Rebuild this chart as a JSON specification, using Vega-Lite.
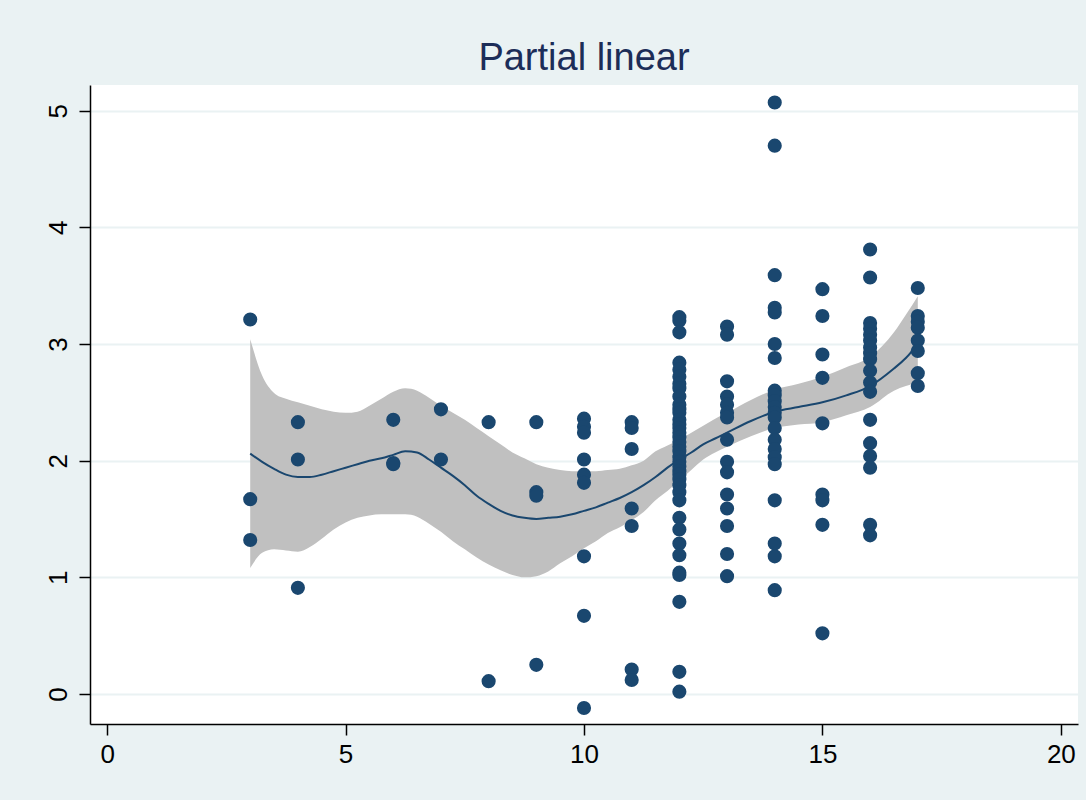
{
  "$schema": "https://vega.github.io/schema/vega-lite/v6.json",
  "width": 988,
  "height": 639,
  "autosize": {"type": "none"},
  "padding": {"left": 90, "top": 85, "right": 8, "bottom": 76},
  "background": "#EAF2F3",
  "title": {
    "text": "Partial linear",
    "font": "Liberation Sans",
    "fontSize": 38,
    "fontWeight": "normal",
    "color": "#1C2D58",
    "anchor": "middle",
    "offset": 7
  },
  "config": {
    "view": {"fill": "white", "stroke": null},
    "axis": {
      "labelFont": "Liberation Sans",
      "labelFontSize": 26,
      "labelColor": "black",
      "domainColor": "black",
      "domainWidth": 1.5,
      "tickColor": "black",
      "tickWidth": 1.5,
      "tickSize": 11,
      "title": null
    }
  },
  "datasets": {
    "pts": [
      {"x": 3, "y": 3.21}, {"x": 3, "y": 1.67}, {"x": 3, "y": 1.32},
      {"x": 4, "y": 2.33}, {"x": 4, "y": 2.01}, {"x": 4, "y": 0.91},
      {"x": 6, "y": 2.35}, {"x": 6, "y": 1.97}, {"x": 6, "y": 1.98},
      {"x": 7, "y": 2.44}, {"x": 7, "y": 2.01},
      {"x": 8, "y": 2.33}, {"x": 8, "y": 0.11},
      {"x": 9, "y": 2.33}, {"x": 9, "y": 1.73}, {"x": 9, "y": 1.70}, {"x": 9, "y": 0.25},
      {"x": 10, "y": 2.36}, {"x": 10, "y": 2.29}, {"x": 10, "y": 2.24}, {"x": 10, "y": 2.01}, {"x": 10, "y": 1.88}, {"x": 10, "y": 1.81}, {"x": 10, "y": 1.18}, {"x": 10, "y": 0.67}, {"x": 10, "y": -0.12},
      {"x": 11, "y": 2.33}, {"x": 11, "y": 2.28}, {"x": 11, "y": 2.10}, {"x": 11, "y": 1.59}, {"x": 11, "y": 1.44}, {"x": 11, "y": 0.21}, {"x": 11, "y": 0.12},
      {"x": 12, "y": 3.23}, {"x": 12, "y": 3.20}, {"x": 12, "y": 3.10}, {"x": 12, "y": 2.84}, {"x": 12, "y": 2.78}, {"x": 12, "y": 2.72}, {"x": 12, "y": 2.66}, {"x": 12, "y": 2.62}, {"x": 12, "y": 2.55}, {"x": 12, "y": 2.48}, {"x": 12, "y": 2.44}, {"x": 12, "y": 2.41}, {"x": 12, "y": 2.35}, {"x": 12, "y": 2.31}, {"x": 12, "y": 2.28}, {"x": 12, "y": 2.24}, {"x": 12, "y": 2.20}, {"x": 12, "y": 2.16}, {"x": 12, "y": 2.12}, {"x": 12, "y": 2.08}, {"x": 12, "y": 2.03}, {"x": 12, "y": 1.99}, {"x": 12, "y": 1.95}, {"x": 12, "y": 1.91}, {"x": 12, "y": 1.88}, {"x": 12, "y": 1.84}, {"x": 12, "y": 1.79}, {"x": 12, "y": 1.73}, {"x": 12, "y": 1.66}, {"x": 12, "y": 1.51}, {"x": 12, "y": 1.41}, {"x": 12, "y": 1.29}, {"x": 12, "y": 1.19}, {"x": 12, "y": 1.04}, {"x": 12, "y": 1.02}, {"x": 12, "y": 0.79}, {"x": 12, "y": 0.19}, {"x": 12, "y": 0.02},
      {"x": 13, "y": 3.15}, {"x": 13, "y": 3.08}, {"x": 13, "y": 2.68}, {"x": 13, "y": 2.55}, {"x": 13, "y": 2.48}, {"x": 13, "y": 2.41}, {"x": 13, "y": 2.37}, {"x": 13, "y": 2.18}, {"x": 13, "y": 1.99}, {"x": 13, "y": 1.90}, {"x": 13, "y": 1.71}, {"x": 13, "y": 1.59}, {"x": 13, "y": 1.44}, {"x": 13, "y": 1.20}, {"x": 13, "y": 1.01},
      {"x": 14, "y": 5.07}, {"x": 14, "y": 4.70}, {"x": 14, "y": 3.59}, {"x": 14, "y": 3.31}, {"x": 14, "y": 3.27}, {"x": 14, "y": 3.00}, {"x": 14, "y": 2.88}, {"x": 14, "y": 2.60}, {"x": 14, "y": 2.56}, {"x": 14, "y": 2.51}, {"x": 14, "y": 2.46}, {"x": 14, "y": 2.41}, {"x": 14, "y": 2.37}, {"x": 14, "y": 2.28}, {"x": 14, "y": 2.18}, {"x": 14, "y": 2.10}, {"x": 14, "y": 2.03}, {"x": 14, "y": 1.97}, {"x": 14, "y": 1.66}, {"x": 14, "y": 1.29}, {"x": 14, "y": 1.18}, {"x": 14, "y": 0.89},
      {"x": 15, "y": 3.47}, {"x": 15, "y": 3.24}, {"x": 15, "y": 2.91}, {"x": 15, "y": 2.71}, {"x": 15, "y": 2.32}, {"x": 15, "y": 1.71}, {"x": 15, "y": 1.66}, {"x": 15, "y": 1.45}, {"x": 15, "y": 0.52},
      {"x": 16, "y": 3.81}, {"x": 16, "y": 3.57}, {"x": 16, "y": 3.18}, {"x": 16, "y": 3.13}, {"x": 16, "y": 3.08}, {"x": 16, "y": 3.03}, {"x": 16, "y": 2.97}, {"x": 16, "y": 2.92}, {"x": 16, "y": 2.87}, {"x": 16, "y": 2.77}, {"x": 16, "y": 2.67}, {"x": 16, "y": 2.59}, {"x": 16, "y": 2.35}, {"x": 16, "y": 2.15}, {"x": 16, "y": 2.04}, {"x": 16, "y": 1.94}, {"x": 16, "y": 1.45}, {"x": 16, "y": 1.36},
      {"x": 17, "y": 3.48}, {"x": 17, "y": 3.24}, {"x": 17, "y": 3.19}, {"x": 17, "y": 3.14}, {"x": 17, "y": 3.03}, {"x": 17, "y": 2.94}, {"x": 17, "y": 2.75}, {"x": 17, "y": 2.64}
    ],
    "fit": [
      {"x": 3.0, "fit": 2.06, "lo": 1.08, "hi": 3.04},
      {"x": 3.25, "fit": 1.99, "lo": 1.21, "hi": 2.73},
      {"x": 3.5, "fit": 1.93, "lo": 1.24, "hi": 2.58},
      {"x": 3.75, "fit": 1.88, "lo": 1.23, "hi": 2.53},
      {"x": 4.0, "fit": 1.86, "lo": 1.22, "hi": 2.50},
      {"x": 4.25, "fit": 1.86, "lo": 1.26, "hi": 2.47},
      {"x": 4.5, "fit": 1.88, "lo": 1.33, "hi": 2.44},
      {"x": 4.75, "fit": 1.91, "lo": 1.41, "hi": 2.42},
      {"x": 5.0, "fit": 1.94, "lo": 1.47, "hi": 2.41},
      {"x": 5.25, "fit": 1.97, "lo": 1.51, "hi": 2.42},
      {"x": 5.5, "fit": 2.00, "lo": 1.53, "hi": 2.47},
      {"x": 5.75, "fit": 2.02, "lo": 1.54, "hi": 2.53},
      {"x": 6.0, "fit": 2.05, "lo": 1.54, "hi": 2.59},
      {"x": 6.25, "fit": 2.08, "lo": 1.54, "hi": 2.62},
      {"x": 6.5, "fit": 2.07, "lo": 1.52, "hi": 2.60},
      {"x": 6.75, "fit": 2.01, "lo": 1.46, "hi": 2.54},
      {"x": 7.0, "fit": 1.94, "lo": 1.39, "hi": 2.47},
      {"x": 7.25, "fit": 1.87, "lo": 1.31, "hi": 2.41},
      {"x": 7.5, "fit": 1.79, "lo": 1.24, "hi": 2.35},
      {"x": 7.75, "fit": 1.70, "lo": 1.17, "hi": 2.28},
      {"x": 8.0, "fit": 1.63, "lo": 1.11, "hi": 2.21},
      {"x": 8.25, "fit": 1.57, "lo": 1.06, "hi": 2.14},
      {"x": 8.5, "fit": 1.53, "lo": 1.02, "hi": 2.07},
      {"x": 8.75, "fit": 1.51, "lo": 1.00, "hi": 2.02},
      {"x": 9.0, "fit": 1.50, "lo": 1.01, "hi": 1.97},
      {"x": 9.25, "fit": 1.51, "lo": 1.05, "hi": 1.94},
      {"x": 9.5, "fit": 1.52, "lo": 1.12, "hi": 1.92},
      {"x": 9.75, "fit": 1.54, "lo": 1.18, "hi": 1.91},
      {"x": 10.0, "fit": 1.57, "lo": 1.25, "hi": 1.91},
      {"x": 10.25, "fit": 1.60, "lo": 1.31, "hi": 1.91},
      {"x": 10.5, "fit": 1.64, "lo": 1.38, "hi": 1.92},
      {"x": 10.75, "fit": 1.68, "lo": 1.43, "hi": 1.93},
      {"x": 11.0, "fit": 1.73, "lo": 1.49, "hi": 1.96},
      {"x": 11.25, "fit": 1.79, "lo": 1.56, "hi": 2.00},
      {"x": 11.5, "fit": 1.86, "lo": 1.66, "hi": 2.08},
      {"x": 11.75, "fit": 1.94, "lo": 1.74, "hi": 2.13},
      {"x": 12.0, "fit": 2.01, "lo": 1.83, "hi": 2.18},
      {"x": 12.25, "fit": 2.07, "lo": 1.92, "hi": 2.24},
      {"x": 12.5, "fit": 2.14, "lo": 2.01, "hi": 2.30},
      {"x": 12.75, "fit": 2.19, "lo": 2.07, "hi": 2.36},
      {"x": 13.0, "fit": 2.24, "lo": 2.12, "hi": 2.41},
      {"x": 13.5, "fit": 2.34, "lo": 2.21, "hi": 2.52},
      {"x": 14.0, "fit": 2.42, "lo": 2.28, "hi": 2.61},
      {"x": 14.5, "fit": 2.46, "lo": 2.31, "hi": 2.66},
      {"x": 15.0, "fit": 2.50, "lo": 2.33, "hi": 2.72},
      {"x": 15.5, "fit": 2.56, "lo": 2.39, "hi": 2.80},
      {"x": 16.0, "fit": 2.64, "lo": 2.46, "hi": 2.89},
      {"x": 16.5, "fit": 2.79, "lo": 2.60, "hi": 3.10},
      {"x": 16.75, "fit": 2.88, "lo": 2.64, "hi": 3.25},
      {"x": 17.0, "fit": 3.00, "lo": 2.67, "hi": 3.41}
    ]
  },
  "layer": [
    {
      "data": {"name": "fit"},
      "mark": {"type": "area", "color": "#C0C0C0", "opacity": 1, "interpolate": "monotone"},
      "encoding": {
        "x": {"field": "x", "type": "quantitative", "scale": {"domain": [-0.36, 20.36], "nice": false, "zero": false},
          "axis": {"values": [0, 5, 10, 15, 20], "grid": false, "labelPadding": 6, "format": "d"}},
        "y": {"field": "lo", "type": "quantitative", "scale": {"domain": [-0.257, 5.22], "nice": false, "zero": false},
          "axis": {"values": [0, 1, 2, 3, 4, 5], "format": "d", "grid": true, "gridColor": "#EAF2F3", "gridWidth": 2, "labelAngle": -90, "labelPadding": 8}},
        "y2": {"field": "hi"}
      }
    },
    {
      "data": {"name": "fit"},
      "mark": {"type": "line", "color": "#1A476F", "strokeWidth": 2, "interpolate": "monotone"},
      "encoding": {
        "x": {"field": "x", "type": "quantitative"},
        "y": {"field": "fit", "type": "quantitative"}
      }
    },
    {
      "data": {"name": "pts"},
      "mark": {"type": "circle", "color": "#1A476F", "size": 200, "opacity": 1},
      "encoding": {
        "x": {"field": "x", "type": "quantitative"},
        "y": {"field": "y", "type": "quantitative"}
      }
    }
  ]
}
